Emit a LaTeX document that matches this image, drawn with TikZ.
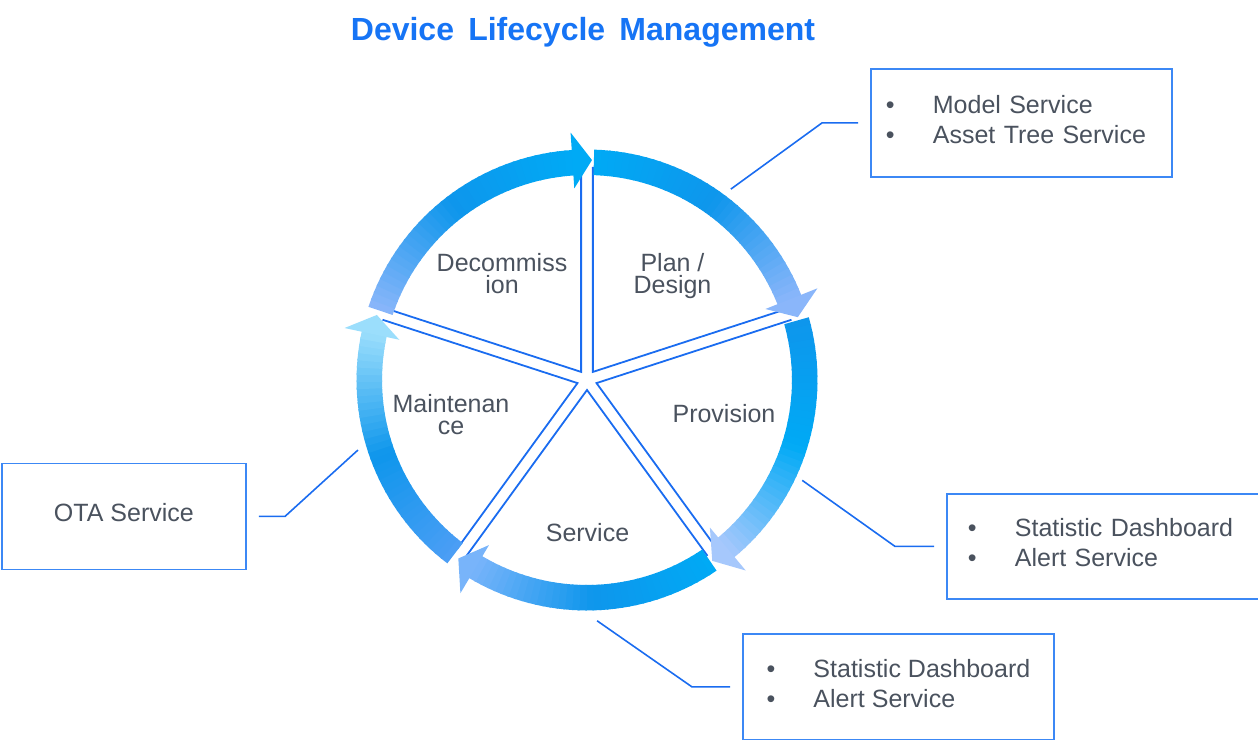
\documentclass[tikz,border=0pt]{standalone}
\usepackage{fontspec}
\setmainfont{Liberation Sans}
\newfontfamily\titlefont[WordSpace=1.6]{Liberation Sans}
\usepackage{xcolor}
\usetikzlibrary{positioning,calc}
\definecolor{LCLine}{RGB}{26,108,240}
\definecolor{LCBox}{RGB}{60,136,245}
\definecolor{LCText}{RGB}{74,82,94}
\definecolor{LCTitle}{RGB}{22,116,245}
\definecolor{RingCyan}{RGB}{0,170,245}
\definecolor{RingBlue}{RGB}{14,150,236}
\definecolor{RingPeri}{RGB}{138,182,250}
\definecolor{RingPale}{RGB}{166,200,252}
\definecolor{RingSky}{RGB}{120,180,250}
\definecolor{RingMed}{RGB}{76,158,245}
\definecolor{RingIce}{RGB}{155,222,252}
\newcommand{\lcbullet}{\makebox[47pt][l]{\textbullet}}

\begin{document}
\begin{tikzpicture}[
    x=1pt,y=-1pt,
    sector/.style={draw=LCLine, line width=1.8pt, line join=miter},
    phase/.style={font=\fontsize{25}{22}\selectfont, text=LCText, align=center, inner sep=0pt},
    infobox/.style={draw=LCBox, line width=1.8pt, fill=white, anchor=north west, align=left, font=\fontsize{25}{30}\selectfont, text=LCText, execute at end node={\rule[-7pt]{0pt}{7pt}}},
    link/.style={draw=LCLine, line width=1.6pt}
  ]
    \useasboundingbox (0,0) rectangle (1258,739);
    \coordinate (c) at (587,380);
    \node[font=\titlefont\fontsize{32}{36}\selectfont\bfseries, text=LCTitle, anchor=base] (title) at (583,40) {Device Lifecycle Management};

    \begin{scope}[shift={(c)}]
      \foreach \m in {306,18,90,162,234} {
        \draw[sector] ([shift={(\m:10)}]\m-36:205) -- (\m:10) -- ([shift={(\m:10)}]\m+36:205);
      }
      \foreach \ta/\tp/\cA/\cB/\cC in {271.8/343.4/RingCyan/RingBlue/RingPeri,
          344.2/415.3/RingBlue/RingCyan/RingPale,
          415.8/485.8/RingCyan/RingBlue/RingSky,
          487.3/557.2/RingMed/RingBlue/RingIce,
          558.5/631.3/RingPeri/RingBlue/RingCyan} {
        \pgfmathsetmacro\hb{\tp-5.1}
        \foreach \i in {0,...,35} {
          \pgfmathsetmacro\u{\ta+(\hb-\ta)*\i/36}
          \pgfmathsetmacro\v{\ta+(\hb-\ta)*(\i+1)/36+0.4}
          \pgfmathtruncatemacro\q{\i<18 ? (\i+0.5)*100/18 : (\i-17.5)*100/18}
          \ifnum\i<18 \colorlet{segcol}{\cB!\q!\cA}\else\colorlet{segcol}{\cC!\q!\cB}\fi
          \fill[segcol] (\u:205) -- (\u:230.5) -- (\v:230.5) -- (\v:205) -- cycle;
        }
        \fill[\cC] (\hb:192) -- (\tp:220) -- (\hb:248) -- cycle;
      }
      \coordinate (s1) at (307:239);
      \coordinate (s2) at (163:239.5);
      \coordinate (s3) at (25:237.5);
      \coordinate (s4) at (87.6:241);
    \end{scope}

    \node[phase] (plan) at (672.5,276.5) {Plan /\\Design};
    \node[phase] (prov) at (724,414) {Provision};
    \node[phase] (serv) at (587.5,532.7) {Service};
    \node[phase] (maint) at (451,414.5) {Maintenan\\ce};
    \node[phase] (decom) at (502,273.7) {Decommiss\\ion};

    \node[infobox, text width=271pt, inner xsep=15pt, minimum height=108pt] (mdl) at (870,68) {\lcbullet Model Service\\\lcbullet Asset Tree Service};
    \node[infobox, minimum width=244pt, minimum height=106pt] (ota) at (1,462.5) {OTA Service};
    \node[infobox, text width=274pt, inner xsep=21pt, minimum height=105pt] (stat) at (946,493) {\lcbullet Statistic Dashboard\\\lcbullet Alert Service};
    \node[infobox, minimum width=311pt, minimum height=106pt] (alert) at (742,633) {\lcbullet Statistic Dashboard\\\lcbullet Alert Service};

    \draw[link] (s1) -- (822,0 |- mdl.west) -- ([xshift=-12pt]mdl.west);
    \draw[link] (s2) -- (285,0 |- ota.east) -- ([xshift=12pt]ota.east);
    \draw[link] (s3) -- (895,0 |- stat.west) -- ([xshift=-12pt]stat.west);
    \draw[link] (s4) -- (692,0 |- alert.west) -- ([xshift=-12pt]alert.west);
  \end{tikzpicture}
\end{document}
